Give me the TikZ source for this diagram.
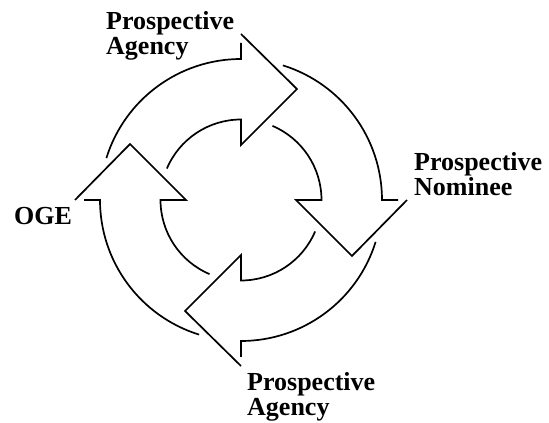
\documentclass[tikz,border=0pt]{standalone}
\usepackage{fontspec}
\setmainfont{Liberation Serif}
\usetikzlibrary{calc}
\tikzset{
  band/.style={draw=black, line width=1.7pt, line join=miter},
  lbl/.style={font=\fontsize{26}{25}\selectfont\bfseries, align=left, inner sep=0pt, anchor=north west}
}
\begin{document}
\begin{tikzpicture}
\useasboundingbox (0,0) rectangle (549pt,423pt);
\coordinate (C) at (241pt,223pt);
\foreach \h in {90,0,270,180}{
  \draw[band] ($(C)+(\h+72.7:141pt)$) arc[start angle=\h+72.7, end angle=\h, radius=141pt] -- ($(C)+(\h:157pt)$);
  \draw[band] ($(C)+(\h:166pt)$) -- ($(C)+(\h-26.77:124.3pt)$) -- ($(C)+(\h:55pt)$) -- ($(C)+(\h:80.5pt)$) arc[start angle=\h, end angle=\h+67, radius=80.5pt];
}
\node[lbl] (agencytop) at (106pt,412pt) {Prospective\\Agency};
\node[lbl] (nominee) at (414pt,271pt) {Prospective\\Nominee};
\node[lbl] (agencybot) at (247pt,51pt) {Prospective\\Agency};
\node[lbl] (oge) at (14pt,216pt) {OGE};
\end{tikzpicture}
\end{document}
